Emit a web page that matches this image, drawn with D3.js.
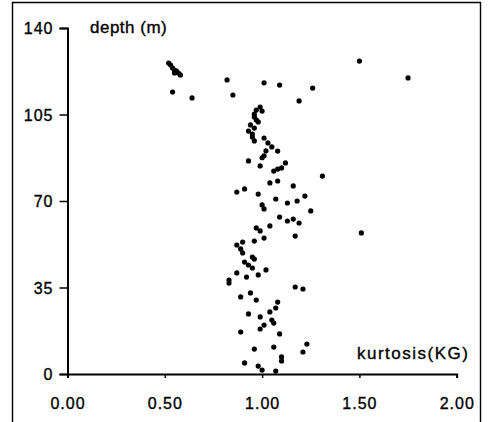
<!DOCTYPE html>
<html>
<head>
<meta charset="utf-8">
<script src="https://cdn.jsdelivr.net/npm/d3@7"></script>
<style>
  html, body { margin: 0; padding: 0; background: #fff; }
  svg { display: block; }
  text { font-family: "Liberation Sans", Arial, sans-serif; fill: #000; stroke: #000; stroke-width: 0.35px; }
</style>
</head>
<body>
<svg id="chart" width="489" height="422"></svg>
<script>
// Grain-size kurtosis (KG) against depth in metres
const kurtosis = [
  0.52, 0.53, 0.54, 0.55, 0.56, 0.57, 0.55, 0.58, 0.54, 0.64,
  0.82, 0.85, 1.01, 1.09, 1.26, 1.19, 1.50, 1.75, 1.51,
  0.99, 0.97, 1.00, 0.96, 0.96, 0.97, 0.98, 0.94, 0.96, 0.93,
  0.95, 0.95, 0.96, 1.01, 1.03, 1.05, 1.02, 1.00, 1.01, 1.08,
  0.93, 1.12, 0.99, 1.06, 1.08, 1.10, 1.31, 0.87, 0.91, 1.04,
  1.08, 0.98, 1.16, 1.07, 1.00, 1.01, 1.13, 1.18, 1.22, 1.25,
  1.09, 1.13, 1.16, 1.19, 0.97, 0.99, 1.04, 1.17, 0.96, 1.01,
  0.87, 0.90, 0.89, 0.90, 0.95, 0.96, 0.91, 0.93, 0.95, 0.98,
  1.02, 0.87, 0.92, 0.83, 0.83, 1.17, 1.21, 0.94, 0.89, 0.97,
  1.08, 1.07, 1.04, 0.93, 0.99, 1.05, 1.06, 1.01, 0.99, 0.89,
  1.09, 1.23, 1.21, 0.96, 1.06, 1.10, 1.10, 0.91, 0.98, 1.00,
  1.07
];
const depth = [
  125.8, 125.0, 123.8, 123.0, 122.6, 121.8, 121.8, 121.0, 114.1, 111.7,
  119.0, 112.9, 117.8, 116.9, 115.7, 110.5, 126.6, 119.8, 57.1,
  108.0, 106.8, 106.4, 105.2, 104.0, 102.8, 102.0, 100.8, 99.5, 98.3,
  97.1, 95.9, 94.3, 95.5, 93.5, 91.9, 90.3, 87.5, 88.3, 90.2,
  86.2, 85.4, 84.2, 82.1, 82.9, 83.4, 80.1, 73.6, 74.9, 77.3,
  78.1, 72.8, 76.1, 70.8, 68.4, 66.8, 69.2, 70.0, 72.0, 66.0,
  63.5, 61.9, 62.7, 61.1, 59.1, 57.9, 59.9, 55.8, 53.8, 55.0,
  52.2, 53.4, 50.6, 49.0, 47.3, 46.5, 45.3, 44.1, 42.9, 40.1,
  42.1, 40.9, 39.2, 38.0, 36.8, 35.2, 34.4, 32.8, 31.2, 29.9,
  29.1, 26.7, 25.1, 24.3, 23.1, 21.8, 20.6, 19.8, 18.2, 17.0,
  16.2, 12.1, 8.9, 10.1, 10.9, 6.9, 5.3, 4.5, 3.2, 1.6,
  1.2
];
const xTicks = [0, 0.5, 1.0, 1.5, 2.0];
const yTicks = [0, 35, 70, 105, 140];
const xTitle = "kurtosis(KG)";
const yTitle = "depth (m)";

const svg = d3.select("#chart");

// outer frame (open at the bottom)
svg.append("path")
  .attr("d", "M12.5,422 V2.5 H480.5 V422")
  .attr("fill", "none")
  .attr("stroke", "#000")
  .attr("stroke-width", 1.4);

const x = d3.scaleLinear().domain([0, 2]).range([67.5, 456.7]);
const y = d3.scaleLinear().domain([0, 140]).range([374, 28]);

const yAxis = svg.append("g")
  .attr("transform", `translate(${x(0)},0)`)
  .call(d3.axisLeft(y).tickValues(yTicks).tickSize(8).tickPadding(6).tickFormat(d => d));

const xAxis = svg.append("g")
  .attr("transform", `translate(0,${y(0)})`)
  .call(d3.axisBottom(x).tickValues(xTicks).tickSize(4).tickPadding(20).tickFormat(d3.format(".2f")));

[xAxis, yAxis].forEach(g => {
  g.select(".domain").attr("stroke-width", 2);
  g.selectAll(".tick line").attr("stroke-width", 1.5);
  g.selectAll(".tick text")
    .style("font-family", '"Liberation Sans", Arial, sans-serif')
    .style("font-size", "16px")
    .style("letter-spacing", "1px")
    .attr("fill", "#000");
});
yAxis.selectAll(".tick text").attr("dy", "0.36em");

// data points
svg.append("g")
  .selectAll("circle")
  .data(kurtosis.map((k, i) => [k, depth[i]]))
  .join("circle")
  .attr("cx", d => x(d[0]))
  .attr("cy", d => y(d[1]))
  .attr("r", 2.6)
  .attr("fill", "#000");

// axis titles
svg.append("text")
  .attr("x", 90)
  .attr("y", 33)
  .style("font-size", "17px")
  .style("letter-spacing", "0.5px")
  .text(yTitle);

svg.append("text")
  .attr("x", 357)
  .attr("y", 359)
  .style("font-size", "17px")
  .style("letter-spacing", "1.5px")
  .text(xTitle);
</script>
</body>
</html>
